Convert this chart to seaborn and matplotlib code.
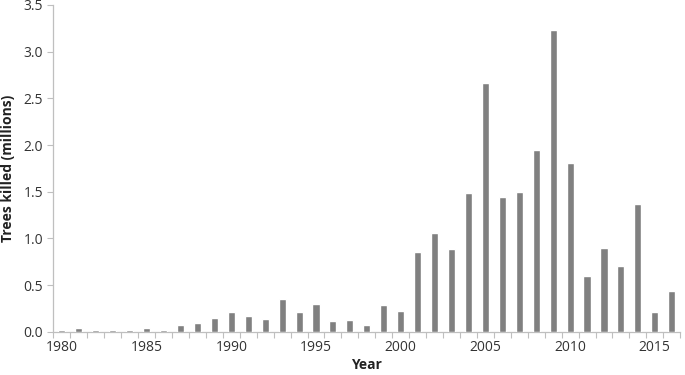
import matplotlib
matplotlib.use("Agg")
import matplotlib.pyplot as plt
import seaborn as sns
import pandas as pd
import numpy as np
from matplotlib.ticker import FixedLocator

years = list(range(1980, 2017))
trees_killed = [0.025, 0.04, 0.025, 0.015, 0.015, 0.04, 0.025, 0.07, 0.10, 0.15,
                0.21, 0.165, 0.135, 0.355, 0.21, 0.30, 0.12, 0.13, 0.07, 0.29,
                0.22, 0.86, 1.06, 0.89, 1.49, 2.66, 1.44, 1.50, 1.95, 3.23,
                1.81, 0.60, 0.90, 0.71, 1.37, 0.21, 0.44]
tick_years = [1980, 1985, 1990, 1995, 2000, 2005, 2010, 2015]
y_ticks = [0.0, 0.5, 1.0, 1.5, 2.0, 2.5, 3.0, 3.5]

df = pd.DataFrame({"Year": years, "Trees": trees_killed})

sns.set_style("white")
plt.rcParams['font.family'] = ['Open Sans', 'DejaVu Sans']

fig = plt.figure(figsize=(6.85, 3.75), dpi=100)
ax = fig.add_axes([0.078, 0.115, 0.915, 0.872])
sns.barplot(data=df, x="Year", y="Trees", color="#808080", saturation=1,
            width=0.42, ax=ax, order=years)

ax.set_xlim(-0.5, len(years) - 0.5)
ax.set_ylim(0, 3.5)
ax.set_yticks(y_ticks)
ax.set_yticklabels([f"{v:.1f}" for v in y_ticks])
pos = [years.index(y) for y in tick_years]
ax.set_xticks(pos)
ax.set_xticklabels([str(y) for y in tick_years])
ax.xaxis.set_minor_locator(FixedLocator(np.arange(-0.5, len(years), 1.0)))
ax.tick_params(axis='x', which='major', length=0, pad=6, labelsize=10, colors='#333333')
ax.tick_params(axis='x', which='minor', length=4, width=0.8, color='#bfbfbf', direction='out', bottom=True)
ax.tick_params(axis='y', which='major', length=4, width=0.8, color='#bfbfbf', direction='out', left=True, labelsize=10, labelcolor='#333333')

for s in ['top', 'right']:
    ax.spines[s].set_visible(False)
for s in ['left', 'bottom']:
    ax.spines[s].set_color('#bfbfbf')
    ax.spines[s].set_linewidth(0.9)
    ax.spines[s].set_zorder(0.5)

ax.set_xlabel("Year", fontweight='bold', fontsize=10, color='#222222', labelpad=2)
ax.set_ylabel("Trees killed (millions)", fontweight='bold', fontsize=10, color='#222222', labelpad=6)

fig.savefig("out.png", dpi=100)
